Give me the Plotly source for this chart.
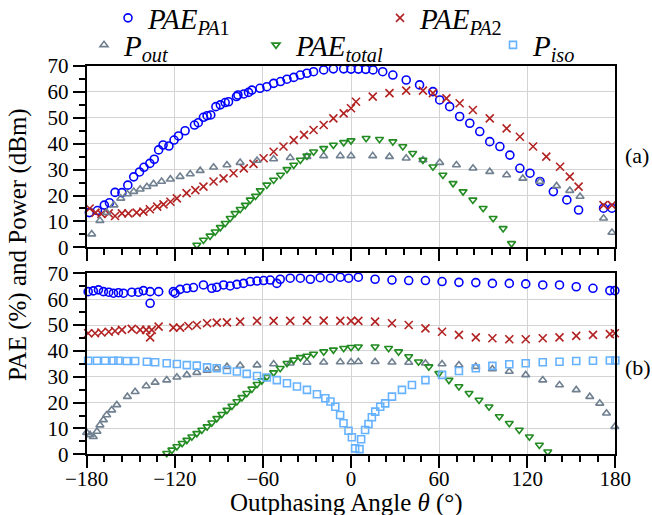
import plotly.graph_objects as go

# ---------------- data: panel (a) ----------------
a_pa1_theta = [-178.2,-172.7,-168,-164.5,-160.7,-156,-152,-148,-144,-141,-137,-134,-131,-128,-124,-120.5,-117.5,-113,-106.6,-104,-100.5,-98,-95.5,-92,-89,-85.7,-83.4,-78,-77,-73,-69.8,-67.5,-62,-57.3,-52.7,-48,-43.6,-39,-34.5,-30,-25.5,-18.6,-12,-5,0,5,10,15,21.6,28.5,37.6,46.7,55.8,60.4,67.2,74,80.9,87.7,94.5,101.4,108.2,115,121.9,128.7,137.8,147,155,172,177.7]
a_pa1_val = [13.4,14.2,16.3,17.2,21.2,21.1,24,27.2,29.1,30.9,32.4,34,37.6,39.5,39.1,41.4,43,45,47.2,48.1,50.2,50.8,51.1,54.3,55,55.9,56.2,58.2,58.8,59.2,59.8,60.7,61.4,62,63.3,64,64.9,65.6,66.5,67.2,67.8,68.5,68.9,68.9,68.8,68.8,68.7,68.5,67.8,66.5,64.6,62.7,60.1,56.9,54.3,50.5,47.9,44.7,40.8,38.9,35.6,30.5,28.6,25.4,21.5,18.3,14.4,15.1,15.1]

a_pa2_theta = [-178,-174,-170,-165,-160.7,-156,-151.6,-146,-141.4,-137,-132,-127.7,-123,-118.6,-112,-106,-100.5,-93.6,-86.8,-80,-73,-66.4,-59.5,-52.7,-46,-39,-32,-25.5,-18.6,-12,-5,0,3.4,14.8,26.2,37.6,49,55.8,65,74,83,94.5,106,115,124,133,142.4,149,155,172,177.7]
a_pa2_val = [15,13.4,12.9,13.1,12.1,13.1,13.1,13.4,13.8,14.7,15.7,16.6,17.6,18.9,20.9,22.1,23.4,25.4,26.6,28.6,30.5,32.2,34.4,36.9,38.9,41.4,43.4,45.3,47.2,49.8,51.7,53.7,56.2,58.2,59.5,60.5,60.5,59.5,57.5,55.6,53,49.8,45.9,42.7,38.9,35,31.1,27.3,23.4,16.3,16.3]

a_out_theta = [-176.6,-171,-166.4,-161.4,-156.8,-152.3,-148,-143.6,-139,-134.5,-129,-123,-116.4,-109.5,-102.7,-93.6,-84.5,-75.5,-64,-52.7,-41.4,-30,-18.6,-7.3,0,14.8,26.2,37.6,49,60.4,71.8,83.1,94.5,106,117,128.7,140,149,156,172,177.7]
a_out_val = [5.1,10.3,13.4,16.3,18.9,20.6,21.5,22.4,23.4,24.5,25.4,26.3,27.3,28.3,29.6,30.9,31.8,32.7,33.5,34.1,34.6,35,35.3,35.3,35.3,35.3,35,34.4,33.7,32.7,31.8,30.5,29.2,27.9,26.6,25.4,23.7,21.9,19.6,11.2,5.7]

a_tot_theta = [-105,-100.5,-96,-92.5,-89,-85.7,-82.3,-79,-75.5,-72,-68.6,-65,-61.8,-57.3,-52.7,-48,-43.6,-39,-34.5,-30,-25.5,-18.6,-12,-5,0,10.3,19.4,28.5,35.3,42,49,55.8,62.6,69.5,76.3,83,90,96.8,103.6,109.3]
a_tot_val = [0.9,2.8,4.4,6,7.7,9.3,11.2,13.1,14.7,16.3,18.3,19.8,21.9,24.1,26,27.9,30.1,31.8,33.7,35.3,36.9,38.2,39.5,40.5,41.2,42.1,41.7,40.8,38.9,36.3,33.7,31.1,27.9,24.7,21.5,18.3,15.1,11.2,7.3,1.5]

# ---------------- data: panel (b) ----------------
b_pa1_theta = [-179,-175.5,-172,-168.6,-165,-161.8,-158.4,-155,-149.3,-144.8,-141.4,-136.8,-136.8,-131,-121,-119.8,-116.4,-111.8,-107.3,-100.5,-94.8,-91.4,-86.8,-82.3,-77.7,-73.2,-68.6,-64,-59.5,-55,-50.5,-48.2,-41.4,-34.5,-27.7,-21,-14,-7.3,-1.6,5,16.4,27.9,39.3,50.7,62,73.5,85,96.3,107.8,119,130.6,142,153.4,164.8,176.3,179.7]
b_pa1_val = [62.9,63.2,63.6,62.9,62.7,62.3,62.5,62.3,62.7,62.7,63.3,58.4,62.9,62.9,62.9,62.3,63.8,64.2,64.5,65.5,64.2,64.6,65.5,65.1,65.7,66.1,66.8,67,67.2,67.4,66.1,67.7,68.1,68.1,67.7,68.3,68.1,68.5,68.1,68.5,67.7,67.4,67.2,67.2,66.8,66.5,66.4,66.1,66.1,65.9,65.5,65.5,64.8,64.2,63.3,63.3]

b_pa2_theta = [-179,-174.3,-170,-165,-160.7,-156,-149.3,-143.6,-139.5,-136.8,-135.7,-131,-121,-116.4,-110.7,-105,-98,-91.4,-84.5,-75.5,-64,-52.7,-41.4,-30,-18.6,-7.3,0,5,16.4,27.9,39.3,50.7,62,73.5,85,96.3,107.8,119,130.6,142,153.4,164.8,176.3,179.7]
b_pa2_val = [46.8,46.8,47.1,47.4,47.7,48.1,48.5,48.1,48.1,45.2,48.1,49.4,49,49,49.6,50,50.7,50.9,51,51.3,51.6,51.6,51.6,51.7,51.7,51.6,51.6,51.6,51.3,50.7,50,48.7,47.4,46.2,45.2,44.9,44.5,44.5,44.9,45.2,45.8,46.2,46.5,46.8]

b_iso_theta = [-179,-173,-167.5,-161.8,-158.4,-152.7,-147,-139,-133.4,-125.5,-118.6,-111.8,-105,-98,-91.4,-84.5,-77.7,-71,-64,-57.3,-50.5,-43.6,-36.8,-30,-23.2,-17.5,-14,-10.7,-7.4,-5.1,-1.7,0.6,2.8,5.8,6.9,9.6,11.9,14.2,16.5,19.9,23.3,27.9,34.7,41.5,50.7,62,73.5,85,96.3,107.8,119,130.6,142,153.4,164.8,176.3,180]
b_iso_val = [36.2,36.2,36.2,36.2,36.2,36.1,36.1,35.8,35.6,35.2,34.9,34.5,34.3,33.6,33.3,32.6,32,31.1,30.3,29.7,28.7,27.5,26.2,24.9,23.2,21.7,20.4,18.4,15.2,12,9.1,6.6,2.3,2.0,5.8,9.4,11.7,14.3,16.5,18.4,19.7,22.3,24.9,26.8,28.7,30.7,32.2,33.3,34.2,34.8,35.2,35.6,35.8,36.1,36.2,36.3,36.3]

b_out_theta = [-180,-177.7,-175.5,-173,-171,-168.6,-166.4,-163,-159.5,-152.3,-147,-139.5,-133.4,-125.5,-118.6,-111.8,-105,-98,-91.4,-84.5,-75.5,-64,-52.7,-41.4,-30,-18.6,-7.3,0,5,16.4,27.9,39.3,50.7,62,73.5,85,96.3,107.8,119,130.6,142,153.4,162.6,169.4,174,179.7]
b_out_val = [8.4,7.5,6.8,8.8,11.3,13.3,15.2,17.1,19.1,22.3,24.2,26.4,27.8,28.7,29.8,30.7,31.6,32.4,33.3,33.9,34.3,34.5,34.9,35.2,35.5,35.6,35.7,35.7,35.8,35.8,35.6,35.5,35.2,34.9,34.5,33.9,33,32,30.7,28.7,26.8,24.9,22.3,19.7,15.9,10.7]

b_tot_theta = [-125.5,-122,-118.6,-115,-111.8,-108.4,-105,-101.6,-98,-94.8,-91.4,-88,-84.5,-81.1,-77.7,-74.3,-71,-67.5,-64,-60.7,-57.3,-52.7,-48.2,-43.6,-39,-34.5,-30,-25.5,-18.6,-12,-5,0,5,16.4,25.6,32.4,39.3,46,53,59.8,66.7,73.5,80.4,87.2,94,101,107.8,114.6,121.5,128.3,134]
b_tot_val = [0.4,1.7,3,4.3,5.5,6.8,8.1,9.4,10.7,12.2,13.9,15.5,17.1,18.7,20.4,22,23.6,25.3,27.1,28.5,30,31.6,33.3,35.2,36.5,37.5,38,38.8,39.7,40.4,41,41.4,41.6,41.6,41,39.7,37.8,35.8,33.9,31.3,28.7,26.2,23.6,21,18.4,14.6,12,9.4,6.8,3.6,1]

x_tickvals = [-180, -120, -60, 0, 60, 120, 180]
y_tickvals = [0, 10, 20, 30, 40, 50, 60, 70]

FONT = "Liberation Serif"
C_PA1, C_PA2, C_OUT, C_TOT, C_ISO = "#0000ff", "#b22222", "#708090", "#228b22", "#66b2ff"

series = [
    ("pa1", "<i>PAE</i><sub><i>PA</i>1</sub>", C_PA1, "circle-open", 8, "legend"),
    ("pa2", "<i>PAE</i><sub><i>PA</i>2</sub>", C_PA2, "x-thin-open", 8, "legend2"),
    ("out", "<i>P</i><sub><i>out</i></sub>", C_OUT, "triangle-up-open", 7, "legend3"),
    ("tot", "<i>PAE</i><sub><i>total</i></sub>", C_TOT, "triangle-down-open", 7, "legend4"),
    ("iso", "<i>P</i><sub><i>iso</i></sub>", C_ISO, "square-open", 7, "legend5"),
]
data_a = {"pa1": (a_pa1_theta, a_pa1_val), "pa2": (a_pa2_theta, a_pa2_val),
          "out": (a_out_theta, a_out_val), "tot": (a_tot_theta, a_tot_val)}
data_b = {"pa1": (b_pa1_theta, b_pa1_val), "pa2": (b_pa2_theta, b_pa2_val),
          "out": (b_out_theta, b_out_val), "tot": (b_tot_theta, b_tot_val),
          "iso": (b_iso_theta, b_iso_val)}

fig = go.Figure()
for key, name, col, sym, size, leg in series:
    marker = dict(symbol=sym, size=size, color=col, line=dict(color=col, width=1.6))
    if key in data_a:
        x, y = data_a[key]
        fig.add_trace(go.Scatter(x=x, y=y, mode="markers", name=name, marker=marker,
                                 xaxis="x", yaxis="y", legend=leg, showlegend=False,
                                 cliponaxis=False))
    x, y = data_b[key]
    fig.add_trace(go.Scatter(x=x, y=y, mode="markers", name=name, marker=marker,
                             xaxis="x2", yaxis="y2", legend=leg, showlegend=True,
                             cliponaxis=False))

xdom = [86.7 / 652, 615.3 / 652]
common_x = dict(range=[-180, 180], tickvals=x_tickvals, ticks="outside", ticklen=12, tickwidth=2,
                tickcolor="black", showline=True, linecolor="black", linewidth=2, mirror=True,
                showgrid=True, gridcolor="#d3d3d3", gridwidth=1, zeroline=False, automargin=False,
                minor=dict(tick0=-180, dtick=12, ticks="outside", ticklen=6, tickwidth=2,
                           tickcolor="black", showgrid=False),
                tickfont=dict(family=FONT, size=21, color="black"), domain=xdom)
common_y = dict(range=[0, 70], tickvals=y_tickvals, ticks="outside", ticklen=12, tickwidth=2,
                tickcolor="black", showline=True, linecolor="black", linewidth=2, mirror=True,
                showgrid=True, gridcolor="#d3d3d3", gridwidth=1, zeroline=False, automargin=False,
                minor=dict(tick0=0, dtick=5, ticks="outside", ticklen=6, tickwidth=2,
                           tickcolor="black", showgrid=False),
                tickfont=dict(family=FONT, size=21, color="black"))

leg_common = dict(orientation="h", xanchor="left", yanchor="middle", bgcolor="rgba(0,0,0,0)",
                  font=dict(family=FONT, size=29, color="black"), itemwidth=30, borderwidth=0)

fig.update_layout(
    width=652, height=515, margin=dict(l=0, r=0, t=0, b=0, autoexpand=False),
    plot_bgcolor="white", paper_bgcolor="white",
    xaxis=dict(**common_x, anchor="y", showticklabels=False),
    yaxis=dict(**common_y, domain=[1 - 247.3 / 515, 1 - 66 / 515], anchor="x"),
    xaxis2=dict(**common_x, anchor="y2", showticklabels=True, ticklabelstandoff=-8),
    yaxis2=dict(**common_y, domain=[1 - 454.3 / 515, 1 - 273.3 / 515], anchor="x2"),
    legend=dict(**leg_common, x=108 / 652, y=1 - 18 / 515),
    legend2=dict(**leg_common, x=380 / 652, y=1 - 18 / 515),
    legend3=dict(**leg_common, x=84 / 652, y=1 - 45 / 515),
    legend4=dict(**leg_common, x=256 / 652, y=1 - 45 / 515),
    legend5=dict(**leg_common, x=493 / 652, y=1 - 45 / 515),
    annotations=[
        dict(text="PAE (%) and Power (dBm)", x=18 / 652, y=1 - 245 / 515, xref="paper", yref="paper",
             xanchor="center", yanchor="middle",
             textangle=-90, showarrow=False, font=dict(family=FONT, size=25, color="black")),
        dict(text="Outphasing Angle <i>θ</i> (°)", x=346 / 652, y=1 - 503 / 515, xref="paper", yref="paper",
             xanchor="center", yanchor="middle",
             showarrow=False, font=dict(family=FONT, size=25, color="black")),
        dict(text="(a)", x=637 / 652, y=1 - 155 / 515, xref="paper", yref="paper",
             xanchor="center", yanchor="middle",
             showarrow=False, font=dict(family=FONT, size=22, color="black")),
        dict(text="(b)", x=638 / 652, y=1 - 367 / 515, xref="paper", yref="paper",
             xanchor="center", yanchor="middle",
             showarrow=False, font=dict(family=FONT, size=22, color="black")),
    ],
)

fig.write_html("out.html", config={"displayModeBar": False},
               post_script="document.body.style.margin='0px';")
